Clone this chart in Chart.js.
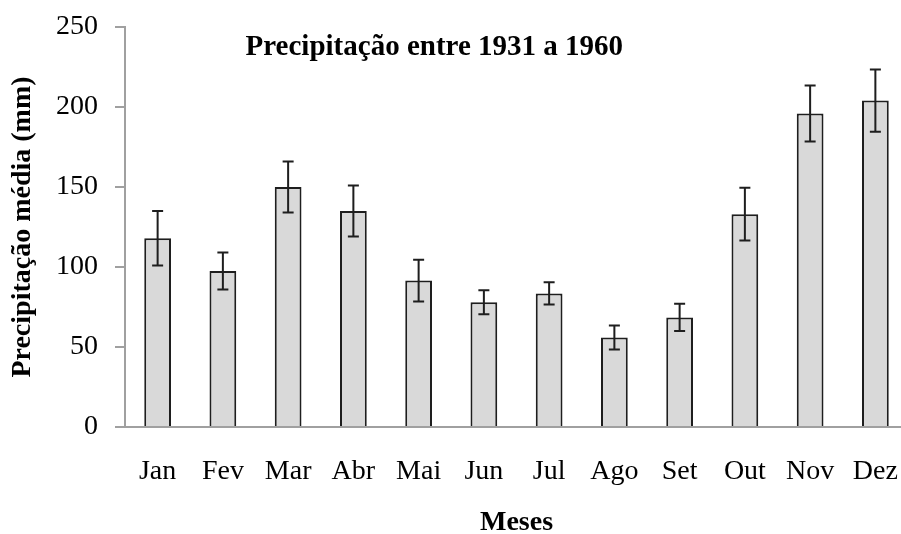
<!DOCTYPE html>
<html>
<head>
<meta charset="utf-8">
<script src="https://cdn.jsdelivr.net/npm/chart.js@4/dist/chart.umd.min.js"></script>
<style>
  html, body { margin: 0; padding: 0; background: #fff; overflow: hidden; }
  #wrap { width: 908px; height: 534px; }
</style>
</head>
<body>
<div id="wrap"><canvas id="rainChart"></canvas></div>
<script>
const months = ["Jan", "Fev", "Mar", "Abr", "Mai", "Jun", "Jul", "Ago", "Set", "Out", "Nov", "Dez"];
const rainMean = [118, 97.5, 150, 135, 91.5, 78, 83.5, 56, 68.5, 133, 196, 204];
const rainError = [17, 11.5, 16, 16, 13, 7.5, 7, 7.5, 8.5, 16.5, 17.5, 19.5];
const yTicks = [0, 50, 100, 150, 200, 250];
const chartTitle = "Precipitação entre 1931 a 1960";
const yTitle = "Precipitação média (mm)";
const xTitle = "Meses";

const serif = "'Liberation Serif', 'Times New Roman', serif";
const axisGray = "#a0a0a0";
const ink = "#1e1e1e";

// error bars drawn from the y scale
const errorBars = {
  id: "errorBars",
  afterDatasetsDraw(chart) {
    const ctx = chart.ctx;
    const meta = chart.getDatasetMeta(0);
    const y = chart.scales.y;
    ctx.save();
    ctx.strokeStyle = ink;
    ctx.lineWidth = 2;
    meta.data.forEach((bar, i) => {
      const top = y.getPixelForValue(rainMean[i] + rainError[i]);
      const bottom = y.getPixelForValue(rainMean[i] - rainError[i]);
      const x = bar.x;
      ctx.beginPath();
      ctx.moveTo(x, top);
      ctx.lineTo(x, bottom);
      ctx.moveTo(x - 5.5, top);
      ctx.lineTo(x + 5.5, top);
      ctx.moveTo(x - 5.5, bottom);
      ctx.lineTo(x + 5.5, bottom);
      ctx.stroke();
    });
    ctx.restore();
  },
};

// title sits inside the plot area
const innerTitle = {
  id: "innerTitle",
  afterDraw(chart) {
    const { ctx, chartArea } = chart;
    ctx.save();
    ctx.font = "bold 29px " + serif;
    ctx.fillStyle = "#000";
    ctx.textAlign = "center";
    ctx.textBaseline = "middle";
    ctx.fillText(chartTitle, chartArea.left + chartArea.width * 0.395, 48);
    ctx.restore();
  },
};

new Chart(document.getElementById("rainChart"), {
  type: "bar",
  data: {
    labels: months,
    datasets: [
      {
        data: rainMean,
        backgroundColor: "#d9d9d9",
        borderColor: ink,
        borderWidth: 2,
        barPercentage: 0.41,
        categoryPercentage: 1.0,
      },
    ],
  },
  options: {
    responsive: true,
    maintainAspectRatio: false,
    animation: false,
    layout: { padding: { top: 27, right: 0, bottom: 0, left: 0 } },
    plugins: {
      legend: { display: false },
      tooltip: { enabled: false },
    },
    scales: {
      x: {
        grid: { display: false },
        border: { display: true, color: axisGray, width: 2 },
        ticks: {
          color: "#000",
          font: { family: serif, size: 28 },
          padding: 20,
        },
        title: {
          display: true,
          text: xTitle,
          color: "#000",
          font: { family: serif, size: 28, weight: "bold", lineHeight: 0.8 },
          padding: { top: 0, bottom: 0 },
        },
        afterFit(scale) {
          scale.height = 107;
          scale.paddingLeft = 0;
          scale.paddingRight = 0;
        },
      },
      y: {
        min: 0,
        max: 250,
        afterBuildTicks(scale) {
          scale.ticks = yTicks.map((v) => ({ value: v }));
        },
        grid: {
          drawOnChartArea: false,
          drawTicks: true,
          tickLength: 10,
          color: axisGray,
          lineWidth: 2,
        },
        border: { display: true, color: axisGray, width: 2 },
        ticks: {
          color: "#000",
          font: { family: serif, size: 28 },
          padding: 17,
        },
        title: {
          display: true,
          text: yTitle,
          color: "#000",
          font: { family: serif, size: 28, weight: "bold", lineHeight: 1 },
          padding: { top: 9, bottom: 0 },
        },
        afterFit(scale) {
          scale.width = 125;
          scale.paddingTop = 0;
          scale.paddingBottom = 0;
        },
      },
    },
  },
  plugins: [errorBars, innerTitle],
});
</script>
</body>
</html>
